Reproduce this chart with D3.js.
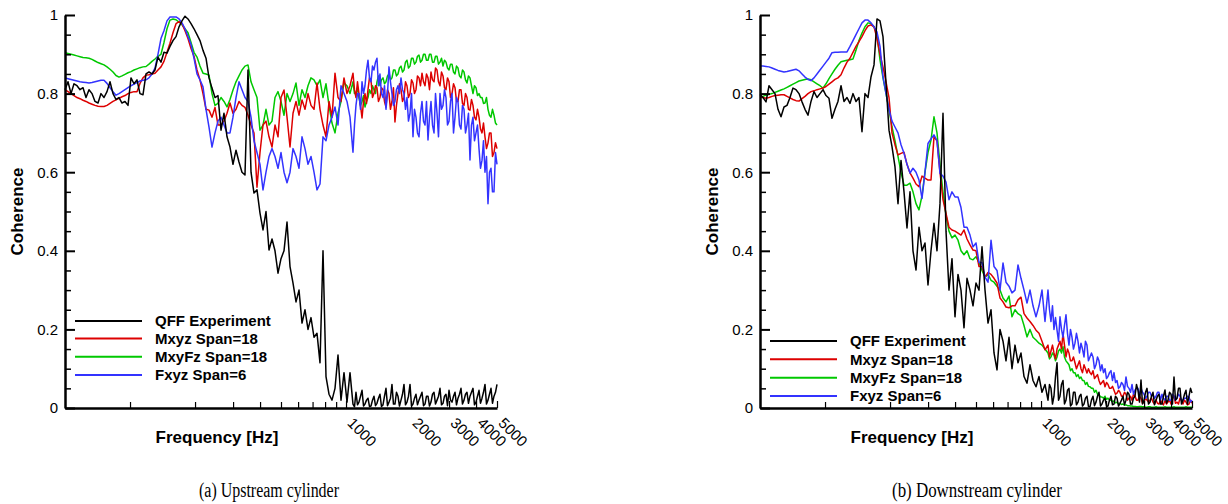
<!DOCTYPE html>
<html><head><meta charset="utf-8">
<script src="https://cdn.jsdelivr.net/npm/d3@7"></script>
<style>body{margin:0;background:#fff}svg{display:block}</style>
</head><body>
<svg id="chart" width="1228" height="504"></svg>
<script>
// Frequency bins [Hz] shared by all series (finer bins above ~1 kHz)
const freq = [
50,51.62,53.31,55.04,56.83,58.68,60.58,62.55,64.58,66.68,
68.84,71.08,73.39,75.78,78.24,80.78,83.41,86.12,88.92,91.81,
94.79,97.87,101.05,104.33,107.7,111.2,114.8,118.6,122.4,126.4,
130.5,134.7,139.1,143.6,148.3,153.1,158.1,163.3,168.6,174.0,
179.7,185.5,191.6,197.8,204.2,210.8,217.7,224.8,232.1,239.6,
247.4,255.4,263.8,272.3,281.2,290.3,299.7,309.5,319.5,329.9,
340.6,351.7,363.2,374.9,387.1,399.7,412.7,426.1,440.0,454.3,
469.0,484.3,500,516.3,533.1,550.4,568.3,586.8,605.8,625.5,
645.8,666.8,688.4,710.8,733.9,757.8,782.4,807.8,834.1,861.2,
889.2,918.1,947.9,978.7,1010.5,1043.3,
1077,1094.5,1112,1130,1148,1167,1186,1205,1224,1244,
1264,1284,1305,1326,1347,1369,1391,1413,1436,1459,
1483,1507,1531,1556,1581,1606,1632,1658,1685,1712,
1740,1768,1797,1826,1855,1885,1915,1946,1978,2010,
2042,2075,2108,2142,2177,2212,2248,2284,2321,2358,
2396,2435,2474,2514,2555,2596,2638,2680,2723,2767,
2812,2857,2903,2950,2998,3046,3095,3145,3196,3247,
3299,3352,3406,3461,3517,3574,3631,3689,3749,3809,
3871,3933,3997,4061,4127,4193,4261,4329,4399,4470,
4542,4615,4690,4765,4842,4920,5000];

// (a) Upstream cylinder
const upQFF = [
.81,.83,.80,.825,.82,.81,.815,.79,.81,.80,
.78,.776,.80,.79,.805,.83,.80,.785,.79,.776,
.78,.77,.84,.825,.835,.80,.797,.85,.855,.85,
.86,.893,.88,.905,.903,.92,.935,.945,.97,.985,
.997,.99,.978,.965,.95,.935,.91,.89,.84,.814,
.79,.795,.707,.75,.69,.664,.62,.656,.626,.60,
.593,.86,.60,.547,.555,.496,.453,.50,.402,.43,
.40,.343,.38,.40,.473,.36,.318,.27,.30,.216,
.25,.20,.23,.18,.19,.115,.40,.08,.035,.02,
.05,.135,.02,.09,.015,.09,
.01,.003,.04,.008,.015,.03,.045,.005,.01,.02,
.025,.004,.005,.02,.03,.006,.012,.025,.035,.004,
.008,.03,.05,.006,.015,.025,.06,.01,.01,.04,
.03,.005,.02,.035,.06,.008,.015,.03,.06,.005,
.01,.025,.035,.008,.02,.03,.04,.006,.01,.03,
.03,.005,.015,.035,.04,.01,.02,.03,.05,.008,
.012,.03,.035,.006,.045,.02,.015,.03,.04,.008,
.025,.035,.05,.01,.02,.035,.04,.012,.03,.04,
.05,.008,.015,.03,.045,.012,.025,.04,.06,.01,
.02,.035,.05,.012,.03,.04,.06];
const upMxyz = [
.81,.805,.80,.795,.79,.787,.783,.78,.776,.773,
.77,.768,.767,.767,.77,.775,.78,.784,.788,.792,
.795,.80,.803,.805,.805,.826,.84,.847,.848,.85,
.852,.86,.868,.882,.905,.928,.955,.978,.983,.978,
.96,.94,.915,.895,.86,.835,.80,.76,.758,.74,
.765,.72,.72,.73,.75,.776,.75,.76,.78,.77,
.765,.745,.72,.70,.562,.65,.72,.73,.69,.664,
.72,.69,.79,.809,.74,.664,.75,.78,.745,.784,
.76,.80,.77,.76,.827,.76,.72,.69,.78,.74,
.852,.79,.78,.84,.80,.82,
.852,.81,.79,.83,.80,.77,.738,.78,.80,.775,
.81,.84,.835,.79,.80,.82,.815,.78,.79,.815,
.81,.78,.766,.81,.80,.76,.78,.815,.728,.77,
.80,.825,.81,.78,.79,.83,.82,.79,.80,.835,
.827,.80,.81,.845,.84,.82,.852,.83,.82,.85,
.84,.81,.855,.835,.83,.865,.86,.83,.82,.855,
.845,.815,.81,.84,.83,.79,.80,.825,.815,.78,
.78,.81,.81,.775,.77,.80,.79,.76,.758,.785,
.77,.74,.733,.76,.74,.71,.70,.725,.69,.66,
.674,.70,.70,.64,.65,.675,.66];
const upMxyFz = [
.904,.902,.90,.898,.896,.894,.892,.891,.89,.887,
.883,.879,.876,.873,.868,.862,.855,.846,.842,.845,
.849,.853,.856,.86,.863,.866,.868,.869,.875,.882,
.888,.895,.90,.93,.965,.987,.99,.988,.982,.975,
.965,.955,.93,.905,.893,.87,.852,.85,.847,.80,
.77,.775,.79,.78,.766,.785,.809,.83,.845,.86,
.87,.873,.83,.81,.79,.707,.72,.76,.72,.73,
.79,.805,.78,.745,.80,.78,.80,.827,.77,.81,
.79,.82,.84,.835,.82,.835,.79,.825,.77,.725,
.70,.75,.78,.827,.82,.80,
.83,.80,.80,.815,.79,.77,.78,.795,.766,.78,
.79,.81,.80,.82,.81,.80,.83,.845,.82,.835,
.84,.825,.83,.845,.85,.835,.84,.86,.86,.845,
.85,.865,.87,.855,.86,.88,.885,.865,.87,.89,
.89,.875,.88,.895,.898,.88,.885,.90,.90,.885,
.885,.90,.90,.88,.88,.895,.895,.875,.88,.89,
.87,.885,.88,.865,.86,.875,.875,.855,.85,.87,
.865,.845,.84,.86,.855,.835,.827,.845,.84,.82,
.80,.82,.815,.795,.80,.79,.79,.775,.776,.79,
.76,.745,.74,.76,.745,.725,.72];
const upFxyz = [
.84,.838,.836,.834,.832,.83,.829,.828,.827,.828,
.83,.832,.834,.834,.826,.815,.805,.796,.80,.805,
.81,.815,.82,.824,.828,.832,.834,.835,.84,.85,
.865,.90,.94,.96,.985,.995,.995,.995,.99,.98,
.965,.945,.925,.89,.85,.835,.817,.76,.715,.664,
.70,.73,.74,.72,.70,.70,.74,.79,.83,.81,
.79,.78,.74,.68,.65,.62,.555,.60,.64,.66,
.64,.61,.65,.60,.573,.60,.66,.64,.61,.69,
.66,.62,.64,.60,.555,.57,.69,.68,.72,.74,
.766,.72,.82,.80,.78,.74,
.651,.72,.77,.80,.80,.76,.83,.80,.82,.86,
.885,.84,.83,.87,.86,.88,.89,.82,.85,.80,
.79,.82,.76,.80,.868,.83,.80,.77,.78,.81,
.82,.80,.84,.81,.80,.76,.79,.73,.75,.80,
.69,.76,.74,.70,.69,.75,.78,.73,.72,.78,
.682,.74,.78,.72,.70,.80,.75,.69,.80,.76,
.77,.81,.79,.72,.73,.78,.80,.70,.74,.79,
.78,.72,.71,.77,.76,.70,.72,.75,.631,.72,
.74,.68,.70,.72,.66,.61,.63,.68,.60,.64,
.52,.60,.61,.55,.55,.65,.62];

// (b) Downstream cylinder
const dnQFF = [
.798,.79,.779,.82,.81,.80,.76,.741,.766,.77,
.79,.814,.81,.80,.779,.76,.745,.78,.805,.79,
.80,.81,.795,.788,.737,.76,.78,.82,.78,.79,
.775,.80,.78,.79,.703,.80,.79,.843,.873,.99,
.985,.945,.826,.707,.665,.614,.52,.63,.55,.458,
.55,.40,.351,.46,.40,.42,.313,.40,.47,.40,
.52,.75,.45,.30,.38,.232,.34,.30,.204,.33,
.30,.26,.318,.30,.41,.30,.216,.25,.14,.097,
.20,.17,.12,.18,.10,.16,.115,.14,.08,.063,
.11,.07,.054,.08,.04,.06,
.02,.06,.05,.01,.03,.08,.115,.02,.03,.06,
.07,.01,.02,.045,.05,.005,.01,.04,.04,.008,
.015,.03,.035,.005,.01,.025,.03,.004,.003,.02,
.03,.006,.015,.03,.04,.005,.01,.02,.025,.004,
.005,.02,.03,.008,.01,.03,.025,.005,.012,.02,
.03,.008,.02,.04,.035,.01,.01,.025,.03,.06,
.045,.015,.071,.01,.02,.04,.05,.01,.015,.03,
.04,.008,.02,.03,.035,.01,.01,.03,.046,.012,
.02,.04,.035,.01,.079,.02,.025,.05,.05,.01,
.02,.035,.045,.01,.03,.05,.038];
const dnMxyz = [
.791,.79,.788,.79,.793,.795,.796,.797,.797,.793,
.789,.785,.782,.781,.787,.793,.80,.805,.807,.81,
.812,.814,.818,.824,.83,.836,.84,.848,.865,.88,
.89,.905,.92,.932,.945,.96,.972,.975,.97,.94,
.90,.868,.83,.79,.70,.67,.644,.648,.651,.62,
.598,.585,.57,.563,.59,.585,.58,.58,.69,.68,
.60,.53,.495,.46,.453,.45,.445,.44,.453,.43,
.415,.402,.40,.36,.36,.333,.345,.34,.33,.318,
.28,.27,.257,.255,.26,.26,.275,.282,.24,.229,
.22,.21,.198,.19,.17,.148,
.16,.13,.145,.16,.14,.125,.15,.16,.17,.15,
.19,.16,.13,.15,.14,.12,.12,.13,.115,.10,
.11,.12,.10,.09,.11,.10,.089,.10,.09,.085,
.095,.075,.08,.085,.07,.06,.065,.07,.054,.065,
.06,.05,.05,.055,.045,.035,.038,.045,.04,.03,
.03,.04,.035,.02,.025,.03,.02,.035,.03,.02,
.02,.03,.025,.012,.015,.025,.02,.015,.02,.025,
.015,.01,.02,.012,.01,.02,.013,.008,.02,.01,
.015,.02,.01,.025,.03,.012,.015,.01,.025,.02,
.01,.02,.015,.008,.01,.02,.012];
const dnMxyFz = [
.791,.793,.796,.798,.80,.803,.806,.809,.812,.816,
.82,.824,.828,.832,.834,.836,.837,.835,.83,.825,
.82,.814,.825,.838,.85,.862,.872,.881,.883,.885,
.886,.888,.91,.935,.954,.97,.98,.978,.97,.95,
.886,.84,.80,.76,.715,.68,.64,.60,.567,.567,
.572,.55,.52,.504,.54,.60,.65,.682,.741,.70,
.62,.55,.49,.45,.433,.44,.427,.40,.39,.40,
.38,.377,.385,.37,.35,.333,.34,.325,.32,.31,
.30,.28,.27,.285,.232,.25,.24,.235,.21,.181,
.20,.18,.173,.165,.16,.15,
.14,.125,.13,.14,.135,.12,.13,.145,.15,.14,
.156,.13,.12,.115,.11,.095,.10,.09,.09,.08,
.085,.075,.079,.07,.07,.06,.065,.055,.054,.05,
.05,.04,.045,.035,.035,.028,.028,.025,.03,.022,
.025,.02,.02,.016,.018,.013,.015,.01,.012,.009,
.01,.007,.008,.006,.006,.005,.005,.004,.004,.003,
.003,.004,.004,.003,.003,.002,.002,.003,.003,.002,
.002,.002,.003,.002,.002,.002,.002,.002,.003,.002,
.002,.002,.002,.002,.003,.002,.002,.002,.002,.002,
.002,.002,.003,.002,.002,.002,.002];
const dnFxyz = [
.87,.87,.869,.868,.865,.862,.859,.857,.855,.856,
.858,.86,.862,.858,.85,.842,.836,.833,.84,.85,
.86,.87,.88,.89,.904,.905,.905,.906,.906,.906,
.92,.935,.95,.965,.98,.987,.987,.98,.97,.957,
.92,.843,.80,.76,.73,.715,.70,.67,.648,.62,
.598,.61,.60,.58,.533,.60,.673,.685,.695,.68,
.597,.59,.575,.53,.55,.537,.537,.51,.46,.46,
.44,.41,.42,.37,.37,.333,.32,.427,.36,.35,
.30,.369,.32,.31,.293,.30,.364,.33,.30,.267,
.30,.26,.232,.26,.30,.22,
.30,.25,.22,.26,.20,.23,.198,.17,.232,.20,
.18,.21,.237,.19,.16,.20,.18,.15,.165,.19,
.17,.14,.165,.15,.13,.17,.16,.12,.13,.14,
.13,.10,.11,.13,.12,.095,.11,.09,.10,.075,
.08,.09,.095,.07,.09,.065,.07,.05,.054,.065,
.06,.045,.079,.055,.05,.04,.06,.035,.046,.05,
.05,.03,.05,.04,.035,.025,.03,.04,.04,.03,
.035,.025,.03,.04,.04,.02,.035,.025,.02,.03,
.03,.02,.02,.035,.03,.02,.025,.035,.03,.02,
.02,.025,.025,.03,.028,.015,.02];

const seriesNames = ["QFF Experiment","Mxyz Span=18","MxyFz Span=18","Fxyz Span=6"];
const seriesColors = ["#000000","#dd0000","#00c800","#3333ff"];
const drawOrder = [2,1,3,0];
const yMajorTicks = [0,0.2,0.4,0.6,0.8,1];
const yMinorTicks = [0.05,0.1,0.15,0.25,0.3,0.35,0.45,0.5,0.55,0.65,0.7,0.75,0.85,0.9,0.95];
const xMinorTicks = [100,200,300,400,500,600,700,800,900];
const xLabelTicks = [1000,2000,3000,4000,5000];
const captions = ["(a) Upstream cylinder","(b) Downstream cylinder"];
const yTitle = "Coherence";
const xTitle = "Frequency [Hz]";

const panels = [
  {x0:65, x1:497, legendRows:[321,338.5,356.8,375], data:[upQFF,upMxyz,upMxyFz,upFxyz], capX:269, capW:140},
  {x0:760, x1:1192, legendRows:[341,359.3,377.7,396], data:[dnQFF,dnMxyz,dnMxyFz,dnFxyz], capX:977, capW:170}
];

[upQFF,upMxyz,upMxyFz,upFxyz,dnQFF,dnMxyz,dnMxyFz,dnFxyz].forEach((s,i)=>{
  if (s.length !== freq.length) throw new Error("series "+i+" length "+s.length+" vs "+freq.length);
});

const svg = d3.select("#chart");
const sans = "'Liberation Sans', Arial, Helvetica, sans-serif";
const yTop = 15, yBot = 408;
const y = d3.scaleLinear().domain([0,1]).range([yBot,yTop]);

panels.forEach((p, pi) => {
  const x = d3.scaleLog().domain([50,5000]).range([p.x0,p.x1]);
  const g = svg.append("g");

  const line = d3.line().x((d,i)=>x(freq[i])).y(d=>y(d));
  drawOrder.forEach(si => {
    g.append("path").datum(p.data[si])
      .attr("d", line).attr("fill","none")
      .attr("stroke", seriesColors[si]).attr("stroke-width",1.5)
      .attr("stroke-linejoin","round");
  });

  g.append("g").attr("transform",`translate(${p.x0},0)`)
    .call(d3.axisLeft(y).tickValues(yMinorTicks).tickSize(-6).tickFormat(""))
    .call(a=>a.select(".domain").remove())
    .call(a=>a.selectAll("line").attr("stroke-width",1.5));
  g.append("g").attr("transform",`translate(${p.x0},0)`)
    .call(d3.axisLeft(y).tickValues(yMajorTicks).tickSize(-10).tickSizeOuter(0).tickPadding(7)
      .tickFormat(d3.format("~g")))
    .call(a=>a.select(".domain").attr("stroke-width",2.5))
    .call(a=>a.selectAll("line").attr("stroke-width",2))
    .call(a=>a.selectAll("text").attr("font-family",sans).attr("font-size",15).attr("fill","#000"));

  g.append("g").attr("transform",`translate(0,${yBot})`)
    .call(d3.axisBottom(x).tickValues(xMinorTicks).tickSize(-6).tickFormat(""))
    .call(a=>a.select(".domain").remove())
    .call(a=>a.selectAll("line").attr("stroke-width",1.2));
  g.append("g").attr("transform",`translate(0,${yBot})`)
    .call(d3.axisBottom(x).tickValues(xLabelTicks).tickSize(-7).tickSizeOuter(0).tickFormat(d3.format("d")))
    .call(a=>a.select(".domain").attr("stroke-width",2.5))
    .call(a=>a.selectAll("line").attr("stroke-width",1.2))
    .call(a=>a.selectAll("text")
      .attr("font-family",sans).attr("font-size",15).attr("fill","#000")
      .attr("y",0).attr("dy",0).attr("x",0)
      .attr("text-anchor","start")
      .attr("transform","translate(0,16) rotate(45)"));

  g.append("text").attr("transform",`translate(${p.x0-46},${(yTop+yBot)/2}) rotate(-90)`)
    .attr("text-anchor","middle").attr("dominant-baseline","middle")
    .attr("font-family",sans).attr("font-weight","bold").attr("font-size",17)
    .text(yTitle);
  g.append("text").attr("x",p.x0+152).attr("y",443)
    .attr("text-anchor","middle")
    .attr("font-family",sans).attr("font-weight","bold").attr("font-size",17)
    .text(xTitle);

  seriesNames.forEach((name, si) => {
    const ly = p.legendRows[si];
    g.append("line").attr("x1",p.x0+10).attr("x2",p.x0+77).attr("y1",ly).attr("y2",ly)
      .attr("stroke",seriesColors[si]).attr("stroke-width",2);
    g.append("text").attr("x",p.x0+90).attr("y",ly).attr("dy","0.35em")
      .attr("font-family",sans).attr("font-weight","bold").attr("font-size",15)
      .text(name);
  });

  g.append("text").attr("x",p.capX).attr("y",497).attr("text-anchor","middle")
    .attr("font-family","'Liberation Serif','Times New Roman',serif").attr("font-size",20)
    .attr("textLength",p.capW).attr("lengthAdjust","spacingAndGlyphs")
    .text(captions[pi]);
});
</script>
</body></html>
